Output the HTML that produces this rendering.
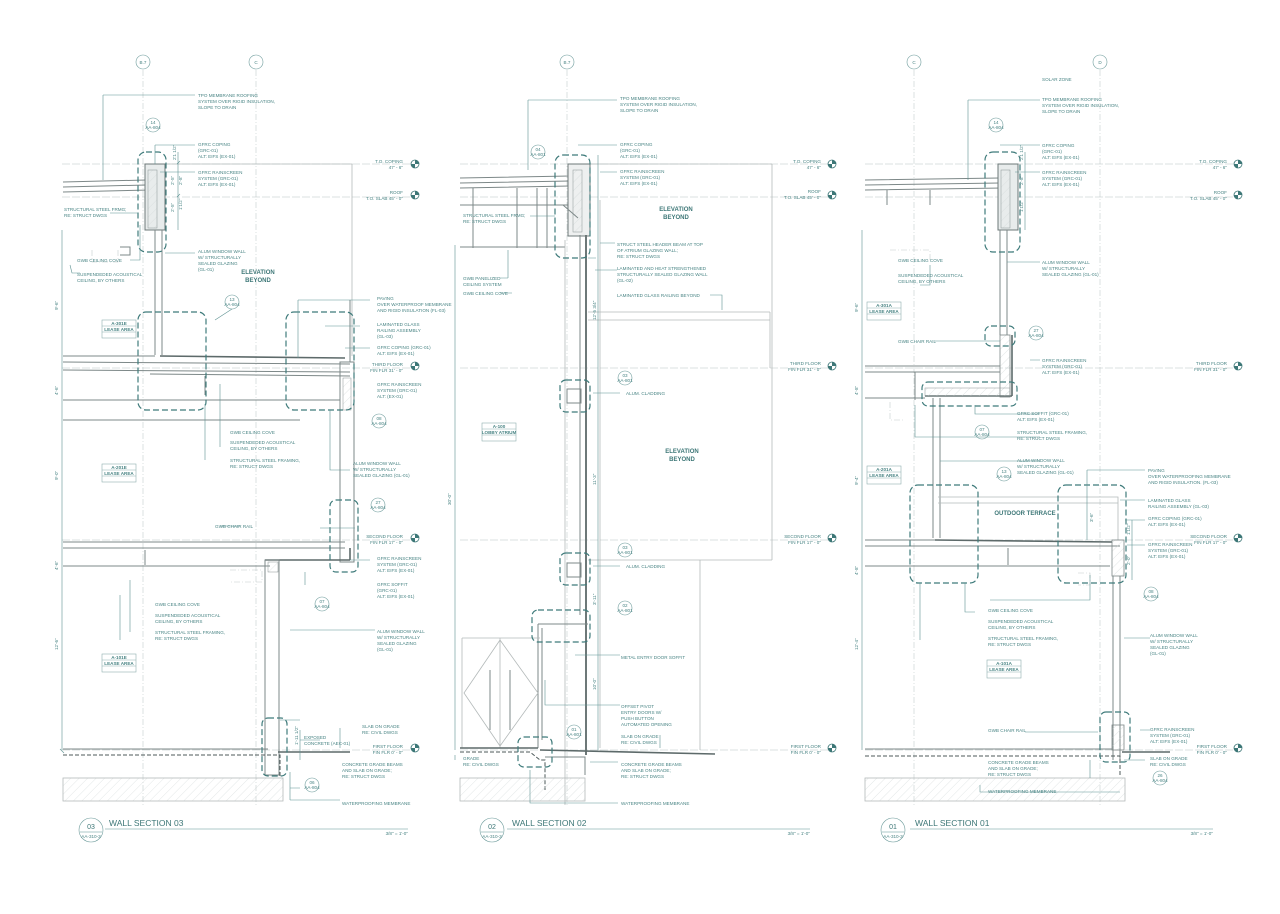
<!DOCTYPE html>
<html><head><meta charset="utf-8"><style>
html,body{margin:0;padding:0;background:#fff;}
svg{display:block}
text{font-family:"Liberation Sans",sans-serif;fill:#4a8585;font-size:4.6px}
.t{font-size:4.6px}
.b{font-weight:bold;font-size:6px;fill:#3d7777}
.h{font-size:8.5px;fill:#3d7777}
.g{stroke:#b4baba;stroke-width:.8;fill:none}
.gd{stroke:#c4cccc;stroke-width:.6;fill:none;stroke-dasharray:6 2 1 2}
.w{stroke:#7d8888;stroke-width:1;fill:none}
.k{stroke:#5d6a6a;stroke-width:1.6;fill:none}
.c{stroke:#3f7b7b;stroke-width:1.2;fill:none;stroke-dasharray:6 3}
.l{stroke:#5f9393;stroke-width:.6;fill:none}
.lv{stroke:#b8c4c4;stroke-width:.6;fill:none;stroke-dasharray:8 2}
.bub{stroke:#6e9c9c;stroke-width:.6;fill:#fff}
.hat{fill:url(#hat);stroke:#b4baba;stroke-width:.8}
</style></head><body>
<svg width="1280" height="914" viewBox="0 0 1280 914" xmlns="http://www.w3.org/2000/svg">
<defs>
<pattern id="hat" width="6" height="6" patternUnits="userSpaceOnUse" patternTransform="rotate(45)"><line x1="0" y1="0" x2="0" y2="6" stroke="#d0d6d6" stroke-width=".6"/></pattern>
<g id="lvl"><circle r="4" fill="#fff" stroke="#3d7777" stroke-width=".8"/><path d="M0,-4A4,4 0 0 1 4,0L0,0Z M0,4A4,4 0 0 1 -4,0L0,0Z" fill="#3d7777"/></g>
</defs>

<!-- ========== PANEL 1 : WALL SECTION 03 ========== -->
<g>
<line class="gd" x1="143" y1="70" x2="143" y2="805"/>
<line class="gd" x1="256" y1="70" x2="256" y2="805"/>
<circle class="bub" cx="143" cy="62" r="7"/><text x="143" y="64" text-anchor="middle">B.7</text>
<circle class="bub" cx="256" cy="62" r="7"/><text x="256" y="64" text-anchor="middle">C</text>
<line class="lv" x1="62" y1="164" x2="410" y2="164"/>
<line class="lv" x1="62" y1="197" x2="410" y2="197"/>
<line class="lv" x1="62" y1="368" x2="410" y2="368"/>
<line class="lv" x1="62" y1="540" x2="410" y2="540"/>
<line class="lv" x1="62" y1="750" x2="410" y2="750"/>
<line class="g" x1="165" y1="164" x2="352" y2="164"/>
<line class="g" x1="352" y1="164" x2="352" y2="356"/>
<text x="403" y="163" text-anchor="end">T.O. COPING</text><text x="403" y="169" text-anchor="end">47' - 6"</text>
<text x="403" y="194" text-anchor="end">ROOF</text><text x="403" y="200" text-anchor="end">T.O. SLAB   45' - 0"</text>
<text x="403" y="366" text-anchor="end">THIRD FLOOR</text><text x="403" y="372" text-anchor="end">FIN FLR   31' - 0"</text>
<text x="403" y="538" text-anchor="end">SECOND FLOOR</text><text x="403" y="544" text-anchor="end">FIN FLR   17' - 0"</text>
<text x="403" y="748" text-anchor="end">FIRST FLOOR</text><text x="403" y="754" text-anchor="end">FIN FLR   0' - 0"</text>
<use href="#lvl" x="415" y="164"/><use href="#lvl" x="415" y="195"/><use href="#lvl" x="415" y="366"/><use href="#lvl" x="415" y="538"/><use href="#lvl" x="415" y="748"/>
<path class="w" d="M63,182 L146,180 M63,187 L146,185 M63,192 L150,190"/>
<rect x="145" y="164" width="20" height="66" fill="#e8ecec" stroke="#6d7878"/>
<rect x="148" y="170" width="9" height="58" fill="url(#hat)" stroke="#8a9494" stroke-width=".5"/>
<path class="w" d="M155,230 L155,355 M162,230 L162,355"/>
<path class="w" d="M120,247 L130,247 L130,255 L120,255"/>
<path class="gd" d="M118,250 L118,262 L92,262 L92,250"/>
<path class="k" d="M160,356 L345,358"/>
<path class="w" d="M63,356 L155,356 M63,362 L350,364 M63,370 L350,372 M150,374 L350,376"/>
<rect x="340" y="362" width="14" height="200" fill="none" stroke="#7d8888"/>
<rect x="343" y="378" width="8" height="32" fill="url(#hat)" stroke="#8a9494" stroke-width=".5"/>
<line class="w" x1="350" y1="300" x2="350" y2="362"/>
<path class="w" d="M63,400 L340,400 M63,420 L300,420"/>
<line class="w" x1="205" y1="376" x2="205" y2="395"/>
<path class="w" d="M63,542 L345,542 M63,548 L345,548 M63,566 L270,566"/>
<path class="k" d="M265,560 L350,560 M350,560 L350,548"/>
<rect x="265" y="560" width="14" height="215" fill="none" stroke="#7d8888"/>
<rect x="268" y="562" width="10" height="10" fill="url(#hat)" stroke="#8a9494" stroke-width=".5"/>
<line class="w" x1="145" y1="550" x2="145" y2="565"/>
<path class="gd" d="M230,570 L262,570 L262,582 L230,582"/>
<path class="w" d="M63,749 L268,749"/>
<path class="k" d="M278,752 L350,752"/>
<path d="M63,755 L280,755 L280,778" stroke="#4d5a5a" stroke-width="1" stroke-dasharray="4 2" fill="none"/>
<rect class="hat" x="63" y="778" width="220" height="23"/>
<rect class="c" x="138" y="152" width="28" height="100" rx="8"/>
<rect class="c" x="138" y="312" width="68" height="98" rx="8"/>
<rect class="c" x="286" y="312" width="68" height="98" rx="8"/>
<rect class="c" x="330" y="500" width="28" height="72" rx="6"/>
<rect class="c" x="262" y="718" width="25" height="58" rx="6"/>
<path class="l" d="M62,230 L62,750 M60,749 L64,753"/>
<text transform="translate(58,310) rotate(-90)">9'-6"</text>
<text transform="translate(58,395) rotate(-90)">4'-6"</text>
<text transform="translate(58,480) rotate(-90)">9'-0"</text>
<text transform="translate(58,570) rotate(-90)">4'-6"</text>
<text transform="translate(58,650) rotate(-90)">12'-6"</text>
<path class="l" d="M178,152 L178,230 M177,164 L180,161 M177,197 L180,194 M300,730 L300,760"/>
<text transform="translate(176,160) rotate(-90)">2'1 1/2"</text>
<text transform="translate(174,185) rotate(-90)">2'-5"</text><text transform="translate(182,185) rotate(-90)">2'-8"</text>
<text transform="translate(174,212) rotate(-90)">2'-5"</text><text transform="translate(182,210) rotate(-90)">1'1/2"</text>
<text transform="translate(298,745) rotate(-90)">1'-11 1/2"</text>
<circle class="bub" cx="153" cy="125" r="7"/><text x="153" y="124" text-anchor="middle">14</text><text x="153" y="129" text-anchor="middle">AA-804</text>
<circle class="bub" cx="232" cy="302" r="7"/><text x="232" y="301" text-anchor="middle">13</text><text x="232" y="306" text-anchor="middle">AA-804</text>
<circle class="bub" cx="379" cy="421" r="7"/><text x="379" y="420" text-anchor="middle">08</text><text x="379" y="425" text-anchor="middle">AA-804</text>
<circle class="bub" cx="378" cy="505" r="7"/><text x="378" y="504" text-anchor="middle">27</text><text x="378" y="509" text-anchor="middle">AA-804</text>
<circle class="bub" cx="322" cy="604" r="7"/><text x="322" y="603" text-anchor="middle">07</text><text x="322" y="608" text-anchor="middle">AA-804</text>
<circle class="bub" cx="312" cy="785" r="7"/><text x="312" y="784" text-anchor="middle">06</text><text x="312" y="789" text-anchor="middle">AA-804</text>
<path class="l" d="M103,95 L103,180 M103,95 L195,95 M155,145 L155,164 M155,145 L195,145 M160,172 L195,172 M138,213 L110,213 M165,253 L195,253 M140,225 L140,260 L130,260 M70,265 L72,273 L80,273 M298,300 L370,300 M298,300 L298,358 M325,326 L360,326 M345,348 L370,348 M220,384 L220,447 M205,404 L205,460 M330,410 L330,470 L350,470 M355,528 L320,528 M220,526 L240,526 M350,560 L370,560 M305,572 L305,585 M130,580 L130,632 M120,595 L120,640 M290,630 L375,630 M280,720 L300,720 M340,728 L340,748 M290,772 L290,800 M300,740 L320,740 M290,788 L300,788 M290,800 L340,800 M232,309 L215,320"/>
<text x="198" y="97">TPO MEMBRANE ROOFING</text><text x="198" y="103">SYSTEM OVER RIGID INSULATION,</text><text x="198" y="109">SLOPE TO DRAIN</text>
<text x="198" y="146">GFRC COPING</text><text x="198" y="152">(GRC-01)</text><text x="198" y="158">ALT: EIFS (EX-01)</text>
<text x="198" y="174">GFRC RAINSCREEN</text><text x="198" y="180">SYSTEM (GRC-01)</text><text x="198" y="186">ALT: EIFS (EX-01)</text>
<text x="64" y="211">STRUCTURAL STEEL FRMG;</text><text x="64" y="217">RE: STRUCT DWGS</text>
<text x="198" y="253">ALUM WINDOW WALL</text><text x="198" y="259">W/ STRUCTURALLY</text><text x="198" y="265">SEALED GLAZING</text><text x="198" y="271">(GL-01)</text>
<text x="77" y="262">GWB CEILING COVE</text>
<text x="77" y="276">SUSPENDEDED ACOUSTICAL</text><text x="77" y="282">CEILING, BY OTHERS</text>
<text x="258" y="274" class="b" text-anchor="middle">ELEVATION</text><text x="258" y="282" class="b" text-anchor="middle">BEYOND</text>
<text x="377" y="300">PAVING</text><text x="377" y="306">OVER WATERPROOF MEMBRANE</text><text x="377" y="312">AND RIGID INSULATION (FL-03)</text>
<text x="377" y="326">LAMINATED GLASS</text><text x="377" y="332">RAILING ASSEMBLY</text><text x="377" y="338">(GL-03)</text>
<text x="377" y="349">GFRC COPING (GRC-01)</text><text x="377" y="355">ALT: EIFS (EX-01)</text>
<text x="377" y="386">GFRC RAINSCREEN</text><text x="377" y="392">SYSTEM (GRC-01)</text><text x="377" y="398">ALT: (EX-01)</text>
<text x="230" y="434">GWB CEILING COVE</text>
<text x="230" y="444">SUSPENDEDED ACOUSTICAL</text><text x="230" y="450">CEILING, BY OTHERS</text>
<text x="230" y="462">STRUCTURAL STEEL FRAMING,</text><text x="230" y="468">RE: STRUCT DWGS</text>
<text x="353" y="465">ALUM WINDOW WALL</text><text x="353" y="471">W/ STRUCTURALLY</text><text x="353" y="477">SEALED GLAZING (GL-01)</text>
<text x="215" y="528">GWB CHAIR RAIL</text>
<text x="377" y="560">GFRC RAINSCREEN</text><text x="377" y="566">SYSTEM (GRC-01)</text><text x="377" y="572">ALT: EIFS (EX-01)</text>
<text x="377" y="586">GFRC SOFFIT</text><text x="377" y="592">(GRC-01)</text><text x="377" y="598">ALT: EIFS (EX-01)</text>
<text x="155" y="606">GWB CEILING COVE</text>
<text x="155" y="617">SUSPENDEDED ACOUSTICAL</text><text x="155" y="623">CEILING, BY OTHERS</text>
<text x="155" y="634">STRUCTURAL STEEL FRAMING,</text><text x="155" y="640">RE: STRUCT DWGS</text>
<text x="377" y="633">ALUM WINDOW WALL</text><text x="377" y="639">W/ STRUCTURALLY</text><text x="377" y="645">SEALED GLAZING</text><text x="377" y="651">(GL-01)</text>
<text x="304" y="739">EXPOSED</text><text x="304" y="745">CONCRETE (AEC-01)</text>
<text x="362" y="728">SLAB ON GRADE</text><text x="362" y="734">RE: CIVIL DWGS</text>
<text x="342" y="766">CONCRETE GRADE BEAMS</text><text x="342" y="772">AND SLAB ON GRADE;</text><text x="342" y="778">RE: STRUCT DWGS</text>
<text x="342" y="805">WATERPROOFING MEMBRANE</text>
<rect x="102" y="320" width="34" height="18" fill="#fff" stroke="#8fb0b0" stroke-width=".6"/><line x1="102" y1="326" x2="136" y2="326" stroke="#8fb0b0" stroke-width=".5"/><line x1="102" y1="332" x2="136" y2="332" stroke="#8fb0b0" stroke-width=".5"/>
<text x="119" y="325" text-anchor="middle" font-weight="bold">A-301E</text><text x="119" y="331" text-anchor="middle" font-weight="bold">LEASE AREA</text>
<rect x="102" y="464" width="34" height="18" fill="#fff" stroke="#8fb0b0" stroke-width=".6"/><line x1="102" y1="470" x2="136" y2="470" stroke="#8fb0b0" stroke-width=".5"/><line x1="102" y1="476" x2="136" y2="476" stroke="#8fb0b0" stroke-width=".5"/>
<text x="119" y="469" text-anchor="middle" font-weight="bold">A-201E</text><text x="119" y="475" text-anchor="middle" font-weight="bold">LEASE AREA</text>
<rect x="102" y="654" width="34" height="18" fill="#fff" stroke="#8fb0b0" stroke-width=".6"/><line x1="102" y1="660" x2="136" y2="660" stroke="#8fb0b0" stroke-width=".5"/><line x1="102" y1="666" x2="136" y2="666" stroke="#8fb0b0" stroke-width=".5"/>
<text x="119" y="659" text-anchor="middle" font-weight="bold">A-101E</text><text x="119" y="665" text-anchor="middle" font-weight="bold">LEASE AREA</text>
<circle class="bub" cx="91" cy="830" r="12"/><line x1="80" y1="832" x2="102" y2="832" class="l"/>
<text x="91" y="829" class="h" text-anchor="middle" style="font-size:7px">03</text><text x="91" y="838" text-anchor="middle">AA-310-3</text>
<text x="109" y="826" class="h">WALL SECTION 03</text>
<line class="l" x1="105" y1="829" x2="408" y2="829"/>
<text x="408" y="835" text-anchor="end">3/8" = 1'-0"</text>
</g>

<!-- ========== PANEL 2 : WALL SECTION 02 ========== -->
<g>
<line class="gd" x1="567" y1="70" x2="567" y2="805"/>
<circle class="bub" cx="567" cy="62" r="7"/><text x="567" y="64" text-anchor="middle">B.7</text>
<line class="lv" x1="460" y1="164" x2="832" y2="164"/>
<line class="lv" x1="460" y1="197" x2="832" y2="197"/>
<line class="lv" x1="460" y1="368" x2="832" y2="368"/>
<line class="lv" x1="460" y1="540" x2="832" y2="540"/>
<line class="lv" x1="460" y1="750" x2="832" y2="750"/>
<text x="821" y="163" text-anchor="end">T.O. COPING</text><text x="821" y="169" text-anchor="end">47' - 6"</text>
<text x="821" y="193" text-anchor="end">ROOF</text><text x="821" y="199" text-anchor="end">T.O. SLAB   45' - 0"</text>
<text x="821" y="365" text-anchor="end">THIRD FLOOR</text><text x="821" y="371" text-anchor="end">FIN FLR   31' - 0"</text>
<text x="821" y="538" text-anchor="end">SECOND FLOOR</text><text x="821" y="544" text-anchor="end">FIN FLR   17' - 0"</text>
<text x="821" y="748" text-anchor="end">FIRST FLOOR</text><text x="821" y="754" text-anchor="end">FIN FLR   0' - 0"</text>
<use href="#lvl" x="832" y="164"/><use href="#lvl" x="832" y="195"/><use href="#lvl" x="832" y="366"/><use href="#lvl" x="832" y="538"/><use href="#lvl" x="832" y="748"/>
<line class="g" x1="590" y1="164" x2="772" y2="164"/>
<line class="g" x1="772" y1="164" x2="772" y2="560"/>
<line class="g" x1="588" y1="560" x2="772" y2="560"/>
<line class="g" x1="588" y1="312" x2="770" y2="312"/><line class="g" x1="770" y1="312" x2="770" y2="368"/><line class="g" x1="588" y1="320" x2="770" y2="320"/>
<line class="g" x1="700" y1="560" x2="700" y2="750"/>
<path class="w" d="M460,178 L570,176 M460,183 L570,181 M460,188 L570,186 M460,205 L570,205"/>
<path class="w" d="M473,188 L473,248 M517,188 L517,248 M537,188 L537,248 M547,188 L547,248 M460,247 L565,247"/>
<rect x="568" y="164" width="22" height="72" fill="#eef0f0" stroke="#6d7878"/>
<rect x="573" y="170" width="9" height="62" fill="url(#hat)" stroke="#8a9494" stroke-width=".5"/>
<path d="M563,205 L578,218" class="w"/>
<line x1="586" y1="235" x2="586" y2="755" stroke="#6d7878" stroke-width="2"/>
<line class="w" x1="580" y1="235" x2="580" y2="615"/>
<line class="g" x1="565" y1="240" x2="565" y2="805"/>
<line class="g" x1="600" y1="200" x2="600" y2="748"/>
<rect x="567" y="389" width="14" height="14" fill="none" stroke="#7d8888"/>
<rect x="567" y="563" width="14" height="14" fill="none" stroke="#7d8888"/>
<path class="w" d="M538,624 L588,624 M538,624 L538,748 M542,628 L542,740"/>
<path class="g" d="M462,638 L540,638 M462,638 L462,748 M500,638 L500,748 M464,693 L500,640 L538,693 L500,746 Z"/>
<path class="w" d="M490,670 L490,730 M510,670 L510,730"/>
<path class="k" d="M460,748 L538,748 M540,750 L715,754"/>
<path d="M460,752 L530,752 L540,760 L545,760 L545,790" stroke="#4d5a5a" stroke-width="1" stroke-dasharray="4 2" fill="none"/>
<path class="w" d="M545,757 L585,757 L585,775"/>
<rect class="hat" x="460" y="778" width="125" height="23"/>
<rect class="c" x="555" y="155" width="35" height="103" rx="8"/>
<rect class="c" x="560" y="380" width="30" height="32" rx="6"/>
<rect class="c" x="560" y="553" width="30" height="32" rx="6"/>
<rect class="c" x="532" y="610" width="58" height="32" rx="6"/>
<rect class="c" x="518" y="737" width="34" height="30" rx="6"/>
<circle class="bub" cx="538" cy="152" r="7"/><text x="538" y="151" text-anchor="middle">04</text><text x="538" y="156" text-anchor="middle">AA-801</text>
<circle class="bub" cx="625" cy="378" r="7"/><text x="625" y="377" text-anchor="middle">03</text><text x="625" y="382" text-anchor="middle">AA-801</text>
<circle class="bub" cx="625" cy="550" r="7"/><text x="625" y="549" text-anchor="middle">03</text><text x="625" y="554" text-anchor="middle">AA-801</text>
<circle class="bub" cx="625" cy="608" r="7"/><text x="625" y="607" text-anchor="middle">02</text><text x="625" y="612" text-anchor="middle">AA-801</text>
<circle class="bub" cx="574" cy="732" r="7"/><text x="574" y="731" text-anchor="middle">01</text><text x="574" y="736" text-anchor="middle">AA-801</text>
<path class="l" d="M528,100 L528,170 M528,100 L617,100 M578,145 L617,145 M600,172 L617,172 M530,216 L555,216 M600,243 L615,243 M508,278 L508,250 M508,278 L500,278 M512,293 L500,293 M595,270 L617,270 M710,295 L722,295 L722,310 M593,393 L620,393 M593,566 L620,566 M575,655 L620,655 M545,680 L545,705 L620,705 M660,735 L660,748 M590,762 L618,762 M530,770 L530,803 L618,803 M455,755 L455,760 M588,258 L596,258"/>
<text x="620" y="100">TPO MEMBRANE ROOFING</text><text x="620" y="106">SYSTEM OVER RIGID INSULATION,</text><text x="620" y="112">SLOPE TO DRAIN</text>
<text x="620" y="146">GFRC COPING</text><text x="620" y="152">(GRC-01)</text><text x="620" y="158">ALT: EIFS (EX-01)</text>
<text x="620" y="173">GFRC RAINSCREEN</text><text x="620" y="179">SYSTEM (GRC-01)</text><text x="620" y="185">ALT: EIFS (EX-01)</text>
<text x="463" y="217">STRUCTURAL STEEL FRMG;</text><text x="463" y="223">RE: STRUCT DWGS</text>
<text x="676" y="211" class="b" text-anchor="middle">ELEVATION</text><text x="676" y="219" class="b" text-anchor="middle">BEYOND</text>
<text x="617" y="246">STRUCT STEEL HEADER BEAM AT TOP</text><text x="617" y="252">OF ATRIUM GLAZING WALL;</text><text x="617" y="258">RE: STRUCT DWGS</text>
<text x="617" y="270">LAMINATED AND HEAT STRENGTHENED</text><text x="617" y="276">STRUCTURALLY SEALED GLAZING WALL</text><text x="617" y="282">(GL-02)</text>
<text x="463" y="280">GWB PANELIZED</text><text x="463" y="286">CEILING SYSTEM</text>
<text x="463" y="295">GWB CEILING COVE</text>
<text x="617" y="297">LAMINATED GLASS RAILING BEYOND</text>
<text x="626" y="395">ALUM. CLADDING</text>
<text x="682" y="453" class="b" text-anchor="middle">ELEVATION</text><text x="682" y="461" class="b" text-anchor="middle">BEYOND</text>
<text x="626" y="568">ALUM. CLADDING</text>
<text x="621" y="659">METAL ENTRY DOOR SOFFIT</text>
<text x="621" y="708">OFFSET PIVOT</text><text x="621" y="714">ENTRY DOORS W/</text><text x="621" y="720">PUSH BUTTON</text><text x="621" y="726">AUTOMATED OPENING</text>
<text x="621" y="738">SLAB ON GRADE</text><text x="621" y="744">RE: CIVIL DWGS</text>
<text x="463" y="760">GRADE</text><text x="463" y="766">RE: CIVIL DWGS</text>
<text x="621" y="766">CONCRETE GRADE BEAMS</text><text x="621" y="772">AND SLAB ON GRADE;</text><text x="621" y="778">RE: STRUCT DWGS</text>
<text x="621" y="805">WATERPROOFING MEMBRANE</text>
<rect x="482" y="423" width="34" height="18" fill="#fff" stroke="#8fb0b0" stroke-width=".6"/><line x1="482" y1="429" x2="516" y2="429" stroke="#8fb0b0" stroke-width=".5"/><line x1="482" y1="435" x2="516" y2="435" stroke="#8fb0b0" stroke-width=".5"/>
<text x="499" y="428" text-anchor="middle" font-weight="bold">A-100</text><text x="499" y="434" text-anchor="middle" font-weight="bold">LOBBY ATRIUM</text>
<path class="l" d="M455,245 L455,750 M598,155 L598,750"/>
<text transform="translate(451,505) rotate(-90)">30'-0"</text>
<text transform="translate(596,320) rotate(-90)">12'-5 3/4"</text>
<text transform="translate(596,485) rotate(-90)">11'-3"</text>
<text transform="translate(596,690) rotate(-90)">10'-0"</text>
<text transform="translate(596,605) rotate(-90)">3'-11"</text>
<circle class="bub" cx="492" cy="830" r="12"/><line x1="481" y1="832" x2="503" y2="832" class="l"/>
<text x="492" y="829" text-anchor="middle" style="font-size:7px;fill:#3d7777">02</text><text x="492" y="838" text-anchor="middle">AA-310-3</text>
<text x="512" y="826" class="h">WALL SECTION 02</text>
<line class="l" x1="507" y1="829" x2="810" y2="829"/>
<text x="810" y="835" text-anchor="end">3/8" = 1'-0"</text>
</g>

<!-- ========== PANEL 3 : WALL SECTION 01 ========== -->
<g>
<line class="gd" x1="914" y1="70" x2="914" y2="805"/>
<line class="gd" x1="1100" y1="70" x2="1100" y2="805"/>
<circle class="bub" cx="914" cy="62" r="7"/><text x="914" y="64" text-anchor="middle">C</text>
<circle class="bub" cx="1100" cy="62" r="7"/><text x="1100" y="64" text-anchor="middle">D</text>
<line class="lv" x1="865" y1="164" x2="1238" y2="164"/>
<line class="lv" x1="865" y1="197" x2="1238" y2="197"/>
<line class="lv" x1="865" y1="368" x2="1238" y2="368"/>
<line class="lv" x1="865" y1="540" x2="1238" y2="540"/>
<line class="lv" x1="865" y1="750" x2="1238" y2="750"/>
<text x="1227" y="163" text-anchor="end">T.O. COPING</text><text x="1227" y="169" text-anchor="end">47' - 6"</text>
<text x="1227" y="194" text-anchor="end">ROOF</text><text x="1227" y="200" text-anchor="end">T.O. SLAB   45' - 0"</text>
<text x="1227" y="365" text-anchor="end">THIRD FLOOR</text><text x="1227" y="371" text-anchor="end">FIN FLR   31' - 0"</text>
<text x="1227" y="538" text-anchor="end">SECOND FLOOR</text><text x="1227" y="544" text-anchor="end">FIN FLR   17' - 0"</text>
<text x="1227" y="748" text-anchor="end">FIRST FLOOR</text><text x="1227" y="754" text-anchor="end">FIN FLR   0' - 0"</text>
<use href="#lvl" x="1238" y="164"/><use href="#lvl" x="1238" y="195"/><use href="#lvl" x="1238" y="366"/><use href="#lvl" x="1238" y="538"/><use href="#lvl" x="1238" y="748"/>
<path class="w" d="M865,180 L1000,178 M865,185 L1000,183 M865,190 L1003,188"/>
<path class="w" d="M887,190 L887,205 M930,190 L930,205"/>
<rect x="998" y="164" width="20" height="66" fill="#e8ecec" stroke="#6d7878"/>
<rect x="1001" y="170" width="9" height="58" fill="url(#hat)" stroke="#8a9494" stroke-width=".5"/>
<path class="w" d="M1000,230 L1000,335 M1007,230 L1007,335"/>
<path class="gd" d="M890,250 L930,250 L930,262"/>
<path class="w" d="M865,366 L1000,366 M865,372 L1000,372 M865,398 L925,398"/>
<rect x="1000" y="335" width="10" height="62" fill="url(#hat)" stroke="#7d8888" stroke-width=".8"/>
<path class="k" d="M925,396 L1012,396 M1012,335 L1012,396"/>
<rect x="925" y="388" width="85" height="8" fill="url(#hat)" stroke="#8a9494" stroke-width=".5"/>
<path class="w" d="M933,398 L933,538 M940,398 L940,538"/>
<line class="w" x1="915" y1="372" x2="915" y2="400"/>
<path class="gd" d="M890,402 L890,420 L903,420"/>
<path class="g" d="M938,497 L1118,497 L1118,540 M938,503 L1118,503"/>
<path class="k" d="M935,540 L1112,542"/>
<path class="w" d="M865,540 L935,540 M865,546 L1120,546 M865,566 L1110,566"/>
<rect x="1112" y="540" width="12" height="36" fill="url(#hat)" stroke="#7d8888" stroke-width=".8"/>
<path class="w" d="M1113,576 L1113,760 M1120,576 L1120,760"/>
<line class="w" x1="1008" y1="548" x2="1008" y2="565"/>
<path class="gd" d="M1078,573 L1090,573 L1090,585 L1078,585"/>
<text x="1025" y="515" class="b" text-anchor="middle">OUTDOOR TERRACE</text>
<path class="w" d="M865,749 L1112,749"/>
<path class="k" d="M1122,752 L1170,752"/>
<path d="M865,756 L1120,756 L1120,775" stroke="#4d5a5a" stroke-width="1" stroke-dasharray="4 2" fill="none"/>
<rect class="hat" x="865" y="778" width="260" height="23"/>
<rect x="1112" y="725" width="12" height="25" fill="url(#hat)" stroke="#7d8888" stroke-width=".8"/>
<rect class="c" x="985" y="152" width="35" height="100" rx="8"/>
<rect class="c" x="985" y="326" width="30" height="20" rx="6"/>
<rect class="c" x="922" y="382" width="95" height="24" rx="6"/>
<rect class="c" x="910" y="485" width="68" height="98" rx="8"/>
<rect class="c" x="1058" y="485" width="68" height="98" rx="8"/>
<rect class="c" x="1100" y="712" width="30" height="50" rx="6"/>
<circle class="bub" cx="996" cy="125" r="7"/><text x="996" y="124" text-anchor="middle">14</text><text x="996" y="129" text-anchor="middle">AA-804</text>
<circle class="bub" cx="1036" cy="333" r="7"/><text x="1036" y="332" text-anchor="middle">27</text><text x="1036" y="337" text-anchor="middle">AA-804</text>
<circle class="bub" cx="982" cy="432" r="7"/><text x="982" y="431" text-anchor="middle">07</text><text x="982" y="436" text-anchor="middle">AA-804</text>
<circle class="bub" cx="1004" cy="474" r="7"/><text x="1004" y="473" text-anchor="middle">13</text><text x="1004" y="478" text-anchor="middle">AA-804</text>
<circle class="bub" cx="1151" cy="594" r="7"/><text x="1151" y="593" text-anchor="middle">08</text><text x="1151" y="598" text-anchor="middle">AA-804</text>
<circle class="bub" cx="1160" cy="778" r="7"/><text x="1160" y="777" text-anchor="middle">26</text><text x="1160" y="782" text-anchor="middle">AA-804</text>
<path class="l" d="M968,100 L968,180 M968,100 L1040,100 M1000,145 L1040,145 M1015,172 L1040,172 M1007,262 L1040,262 M930,265 L930,285 L920,285 M935,341 L1000,341 M1030,360 L1040,360 M975,405 L975,414 L1040,414 M915,405 L915,437 L1040,437 M940,461 L1040,461 M1087,470 L1145,470 M1087,470 L1087,540 M1120,500 L1145,500 M1125,520 L1145,520 M1127,545 L1145,545 M920,583 L920,640 M965,583 L965,612 L975,612 M990,600 L1090,600 L1090,575 M1150,638 L1124,638 M1025,732 L1098,732 M1140,730 L1150,730 M1090,760 L1090,778 M1124,760 L1145,760 M980,785 L980,792 L1120,792"/>
<text x="1042" y="81">SOLAR ZONE</text>
<text x="1042" y="101">TPO MEMBRANE ROOFING</text><text x="1042" y="107">SYSTEM OVER RIGID INSULATION,</text><text x="1042" y="113">SLOPE TO DRAIN</text>
<text x="1042" y="147">GFRC COPING</text><text x="1042" y="153">(GRC-01)</text><text x="1042" y="159">ALT: EIFS (EX-01)</text>
<text x="1042" y="174">GFRC RAINSCREEN</text><text x="1042" y="180">SYSTEM (GRC-01)</text><text x="1042" y="186">ALT: EIFS (EX-01)</text>
<text x="1042" y="264">ALUM WINDOW WALL</text><text x="1042" y="270">W/ STRUCTURALLY</text><text x="1042" y="276">SEALED GLAZING (GL-01)</text>
<text x="898" y="262">GWB CEILING COVE</text>
<text x="898" y="277">SUSPENDEDED ACOUSTICAL</text><text x="898" y="283">CEILING, BY OTHERS</text>
<text x="898" y="343">GWB CHAIR RAIL</text>
<text x="1042" y="362">GFRC RAINSCREEN</text><text x="1042" y="368">SYSTEM (GRC-01)</text><text x="1042" y="374">ALT: EIFS (EX-01)</text>
<text x="1017" y="415">GFRC SOFFIT (GRC-01)</text><text x="1017" y="421">ALT: EIFS (EX-01)</text>
<text x="1017" y="434">STRUCTURAL STEEL FRAMING,</text><text x="1017" y="440">RE: STRUCT DWGS</text>
<text x="1017" y="462">ALUM WINDOW WALL</text><text x="1017" y="468">W/ STRUCTURALLY</text><text x="1017" y="474">SEALED GLAZING (GL-01)</text>
<text x="1148" y="472">PAVING</text><text x="1148" y="478">OVER WATERPROOFING MEMBRANE</text><text x="1148" y="484">AND RIGID INSULATION. (FL-03)</text>
<text x="1148" y="502">LAMINATED GLASS</text><text x="1148" y="508">RAILING ASSEMBLY (GL-03)</text>
<text x="1148" y="520">GFRC COPING (GRC-01)</text><text x="1148" y="526">ALT: EIFS (EX-01)</text>
<text x="1148" y="546">GFRC RAINSCREEN</text><text x="1148" y="552">SYSTEM (GRC-01)</text><text x="1148" y="558">ALT: EIFS (EX-01)</text>
<text x="988" y="612">GWB CEILING COVE</text>
<text x="988" y="623">SUSPENDEDED ACOUSTICAL</text><text x="988" y="629">CEILING, BY OTHERS</text>
<text x="988" y="640">STRUCTURAL STEEL FRAMING,</text><text x="988" y="646">RE: STRUCT DWGS</text>
<text x="1150" y="637">ALUM WINDOW WALL</text><text x="1150" y="643">W/ STRUCTURALLY</text><text x="1150" y="649">SEALED GLAZING</text><text x="1150" y="655">(GL-01)</text>
<text x="988" y="732">GWB CHAIR RAIL</text>
<text x="1150" y="731">GFRC RAINSCREEN</text><text x="1150" y="737">SYSTEM (GRC-01)</text><text x="1150" y="743">ALT: EIFS (EX-01)</text>
<text x="1150" y="760">SLAB ON GRADE</text><text x="1150" y="766">RE: CIVIL DWGS</text>
<text x="988" y="764">CONCRETE GRADE BEAMS</text><text x="988" y="770">AND SLAB ON GRADE;</text><text x="988" y="776">RE: STRUCT DWGS</text>
<text x="988" y="793">WATERPROOFING MEMBRANE</text>
<rect x="867" y="302" width="34" height="18" fill="#fff" stroke="#8fb0b0" stroke-width=".6"/><line x1="867" y1="308" x2="901" y2="308" stroke="#8fb0b0" stroke-width=".5"/><line x1="867" y1="314" x2="901" y2="314" stroke="#8fb0b0" stroke-width=".5"/>
<text x="884" y="307" text-anchor="middle" font-weight="bold">A-301A</text><text x="884" y="313" text-anchor="middle" font-weight="bold">LEASE AREA</text>
<rect x="867" y="466" width="34" height="18" fill="#fff" stroke="#8fb0b0" stroke-width=".6"/><line x1="867" y1="472" x2="901" y2="472" stroke="#8fb0b0" stroke-width=".5"/><line x1="867" y1="478" x2="901" y2="478" stroke="#8fb0b0" stroke-width=".5"/>
<text x="884" y="471" text-anchor="middle" font-weight="bold">A-201A</text><text x="884" y="477" text-anchor="middle" font-weight="bold">LEASE AREA</text>
<rect x="987" y="660" width="34" height="18" fill="#fff" stroke="#8fb0b0" stroke-width=".6"/><line x1="987" y1="666" x2="1021" y2="666" stroke="#8fb0b0" stroke-width=".5"/><line x1="987" y1="672" x2="1021" y2="672" stroke="#8fb0b0" stroke-width=".5"/>
<text x="1004" y="665" text-anchor="middle" font-weight="bold">A-101A</text><text x="1004" y="671" text-anchor="middle" font-weight="bold">LEASE AREA</text>
<path class="l" d="M862,230 L862,750 M1025,152 L1025,230 M1132,520 L1132,580"/>
<text transform="translate(858,312) rotate(-90)">9'-6"</text>
<text transform="translate(858,395) rotate(-90)">4'-8"</text>
<text transform="translate(858,485) rotate(-90)">9'-4"</text>
<text transform="translate(858,575) rotate(-90)">4'-8"</text>
<text transform="translate(858,650) rotate(-90)">12'-4"</text>
<text transform="translate(1023,160) rotate(-90)">2'1 1/2"</text>
<text transform="translate(1023,185) rotate(-90)">2'-8"</text>
<text transform="translate(1023,212) rotate(-90)">1'1/2"</text>
<text transform="translate(1093,522) rotate(-90)">3'-6"</text>
<text transform="translate(1130,535) rotate(-90)">1'1/2"</text>
<text transform="translate(1130,565) rotate(-90)">2'-0"</text>
<circle class="bub" cx="893" cy="830" r="12"/><line x1="882" y1="832" x2="904" y2="832" class="l"/>
<text x="893" y="829" text-anchor="middle" style="font-size:7px;fill:#3d7777">01</text><text x="893" y="838" text-anchor="middle">AA-310-3</text>
<text x="915" y="826" class="h">WALL SECTION 01</text>
<line class="l" x1="910" y1="829" x2="1213" y2="829"/>
<text x="1213" y="835" text-anchor="end">3/8" = 1'-0"</text>
</g>
</svg>
</body></html>
